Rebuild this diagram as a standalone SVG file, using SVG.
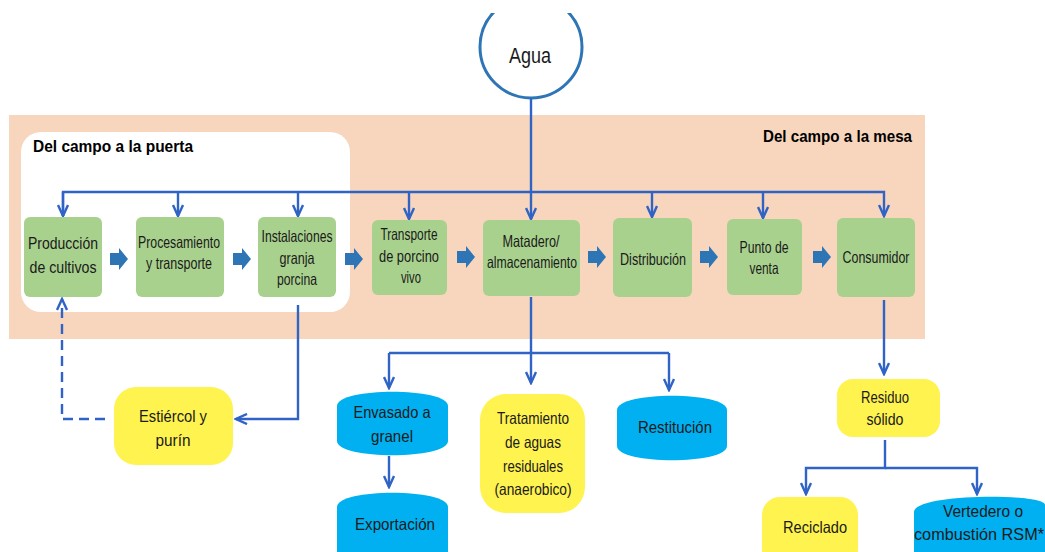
<svg xmlns="http://www.w3.org/2000/svg" width="1045" height="552" viewBox="0 0 1045 552">
<defs>
<style>
.t{font-family:"Liberation Sans",Arial,sans-serif;font-size:16.5px;fill:#1a1a1a;text-anchor:middle}
.h{font-family:"Liberation Sans",Arial,sans-serif;font-size:16.5px;font-weight:bold;fill:#000}
.g{fill:#a9d18e}
.y{fill:#fff34f}
.b{fill:#00b0f0}
.c{fill:none;stroke:#2f63c5;stroke-width:2.4}
.ba{fill:#2e75b6}
</style>
<marker id="ar" viewBox="0 0 14 12" refX="12" refY="6" markerWidth="14" markerHeight="12" orient="auto" markerUnits="userSpaceOnUse">
<path d="M1,1 L12,6 L1,11" fill="none" stroke="#2f63c5" stroke-width="2.4"/>
</marker>
<clipPath id="cp"><rect x="0" y="13" width="1045" height="200"/></clipPath>
<path id="blk" d="M0,-6 L9,-6 L9,-11 L18,0 L9,11 L9,6 L0,6 Z"/>
</defs>
<rect width="1045" height="552" fill="#fff"/>
<g id="bg">
<rect x="9" y="115" width="916" height="224" fill="#f8d6bd"/>
<rect x="21" y="132" width="329" height="180" rx="20" fill="#fff"/>
<text class="h" x="33" y="152" textLength="160" lengthAdjust="spacingAndGlyphs">Del campo a la puerta</text>
<text class="h" x="763" y="142" textLength="149" lengthAdjust="spacingAndGlyphs">Del campo a la mesa</text>
</g>
<g id="agua">
<circle cx="531" cy="47" r="51" fill="#fff" stroke="#2e75b6" stroke-width="3" clip-path="url(#cp)"/>
<text class="t" x="530" y="63" style="font-size:22px" textLength="42" lengthAdjust="spacingAndGlyphs">Agua</text>
</g>
<g id="connectors">
<path class="c" d="M531,98 V192"/>
<path class="c" d="M63,216 V192 H884 V216" marker-end="url(#ar)"/>
<path class="c" d="M63,192 V216" marker-end="url(#ar)"/>
<path class="c" d="M178,192 V216" marker-end="url(#ar)"/>
<path class="c" d="M298,192 V216" marker-end="url(#ar)"/>
<path class="c" d="M409,192 V219" marker-end="url(#ar)"/>
<path class="c" d="M531,192 V219" marker-end="url(#ar)"/>
<path class="c" d="M652,192 V217" marker-end="url(#ar)"/>
<path class="c" d="M763,192 V218" marker-end="url(#ar)"/>
<path class="c" d="M298,305 V419 H236" marker-end="url(#ar)"/>
<path class="c" d="M105,419 H62 V299" stroke-dasharray="10,6" marker-end="url(#ar)"/>
<path class="c" d="M531,297 V353"/>
<path class="c" d="M389,353 H669"/>
<path class="c" d="M389,353 V388" marker-end="url(#ar)"/>
<path class="c" d="M531,353 V383" marker-end="url(#ar)"/>
<path class="c" d="M669,353 V390" marker-end="url(#ar)"/>
<path class="c" d="M389,456 V487" marker-end="url(#ar)"/>
<path class="c" d="M884,300 V374" marker-end="url(#ar)"/>
<path class="c" d="M885,440 V468 H806 V494" marker-end="url(#ar)"/>
<path class="c" d="M885,468 H977 V494" marker-end="url(#ar)"/>
<use href="#blk" class="ba" x="110" y="259"/>
<use href="#blk" class="ba" x="233" y="259"/>
<use href="#blk" class="ba" x="345" y="259"/>
<use href="#blk" class="ba" x="457" y="257"/>
<use href="#blk" class="ba" x="588" y="257"/>
<use href="#blk" class="ba" x="700" y="257"/>
<use href="#blk" class="ba" x="813" y="257"/>
</g>
<g id="n1"><rect class="g" x="24" y="217" width="78" height="80" rx="6"/>
<text class="t" x="63" y="249" textLength="70" lengthAdjust="spacingAndGlyphs">Producción</text>
<text class="t" x="63" y="273" textLength="67" lengthAdjust="spacingAndGlyphs">de cultivos</text></g>
<g id="n2"><rect class="g" x="136" y="217" width="88" height="80" rx="6"/>
<text class="t" x="179" y="248" textLength="82" lengthAdjust="spacingAndGlyphs">Procesamiento</text>
<text class="t" x="179" y="269" textLength="66" lengthAdjust="spacingAndGlyphs">y transporte</text></g>
<g id="n3"><rect class="g" x="258" y="217" width="78" height="80" rx="6"/>
<text class="t" x="297" y="242" textLength="71" lengthAdjust="spacingAndGlyphs">Instalaciones</text>
<text class="t" x="297" y="264" textLength="35" lengthAdjust="spacingAndGlyphs">granja</text>
<text class="t" x="297" y="285" textLength="40" lengthAdjust="spacingAndGlyphs">porcina</text></g>
<g id="n4"><rect class="g" x="372" y="220" width="75" height="75" rx="6"/>
<text class="t" x="409" y="240" textLength="57" lengthAdjust="spacingAndGlyphs">Transporte</text>
<text class="t" x="409" y="262" textLength="60" lengthAdjust="spacingAndGlyphs">de porcino</text>
<text class="t" x="411" y="283" textLength="20" lengthAdjust="spacingAndGlyphs">vivo</text></g>
<g id="n5"><rect class="g" x="483" y="220" width="97" height="76" rx="6"/>
<text class="t" x="531" y="247" textLength="57" lengthAdjust="spacingAndGlyphs">Matadero/</text>
<text class="t" x="532" y="268" textLength="90" lengthAdjust="spacingAndGlyphs">almacenamiento</text></g>
<g id="n6"><rect class="g" x="613" y="218" width="79" height="79" rx="6"/>
<text class="t" x="653" y="265" textLength="66" lengthAdjust="spacingAndGlyphs">Distribución</text></g>
<g id="n7"><rect class="g" x="727" y="219" width="75" height="76" rx="6"/>
<text class="t" x="764" y="253" textLength="49" lengthAdjust="spacingAndGlyphs">Punto de</text>
<text class="t" x="764" y="274" textLength="29" lengthAdjust="spacingAndGlyphs">venta</text></g>
<g id="n8"><rect class="g" x="837" y="218" width="78" height="79" rx="6"/>
<text class="t" x="876" y="263" textLength="67" lengthAdjust="spacingAndGlyphs">Consumidor</text></g>
<g id="n9"><rect class="y" x="114" y="387" width="119" height="78" rx="22"/>
<text class="t" x="173" y="422" textLength="68" lengthAdjust="spacingAndGlyphs">Estiércol y</text>
<text class="t" x="173" y="446" textLength="35" lengthAdjust="spacingAndGlyphs">purín</text></g>
<g id="n10"><path class="b" d="M337,406 C337,387 448,387 448,406 L448,441 C448,460 337,460 337,441 Z"/>
<text class="t" x="392" y="418" textLength="77" lengthAdjust="spacingAndGlyphs">Envasado a</text>
<text class="t" x="392" y="442" textLength="42" lengthAdjust="spacingAndGlyphs">granel</text></g>
<g id="n11"><path class="b" d="M337,507 C337,488 448,488 448,507 L448,552 L337,552 Z"/>
<text class="t" x="395" y="530" textLength="80" lengthAdjust="spacingAndGlyphs">Exportación</text></g>
<g id="n12"><rect class="y" x="480" y="394" width="105" height="119" rx="26"/>
<text class="t" x="533" y="424" textLength="72" lengthAdjust="spacingAndGlyphs">Tratamiento</text>
<text class="t" x="533" y="448" textLength="56" lengthAdjust="spacingAndGlyphs">de aguas</text>
<text class="t" x="533" y="472" textLength="60" lengthAdjust="spacingAndGlyphs">residuales</text>
<text class="t" x="533" y="495" textLength="77" lengthAdjust="spacingAndGlyphs">(anaerobico)</text></g>
<g id="n13"><path class="b" d="M617,410 C617,391 727,391 727,410 L727,446 C727,465 617,465 617,446 Z"/>
<text class="t" x="675" y="433" textLength="74" lengthAdjust="spacingAndGlyphs">Restitución</text></g>
<g id="n14"><rect class="y" x="837" y="379" width="103" height="58" rx="16"/>
<text class="t" x="885" y="403" textLength="48" lengthAdjust="spacingAndGlyphs">Residuo</text>
<text class="t" x="885" y="425" textLength="37" lengthAdjust="spacingAndGlyphs">sólido</text></g>
<g id="n15"><rect class="y" x="762" y="497" width="96" height="70" rx="18"/>
<text class="t" x="815" y="533" textLength="64" lengthAdjust="spacingAndGlyphs">Reciclado</text></g>
<g id="n16"><path class="b" d="M914,512 C914,493 1045,493 1045,505 L1045,552 L914,552 Z"/>
<text class="t" x="983" y="517" textLength="80" lengthAdjust="spacingAndGlyphs">Vertedero o</text>
<text class="t" x="979" y="540" textLength="130" lengthAdjust="spacingAndGlyphs">combustión RSM*</text></g>
</svg>
